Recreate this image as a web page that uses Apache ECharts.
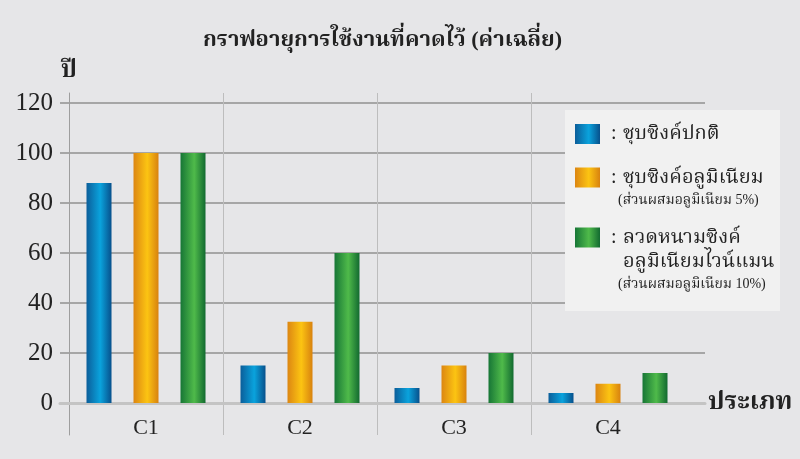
<!DOCTYPE html>
<html>
<head>
<meta charset="utf-8">
<script src="https://cdn.jsdelivr.net/npm/echarts@6/dist/echarts.min.js"></script>
<style>
html,body{margin:0;padding:0;background:#e6e6e8;}
#chart{width:800px;height:459px;}
</style>
</head>
<body>
<div id="chart"></div>
<script>
const categories = ['C1', 'C2', 'C3', 'C4'];
const seriesNames = ['ชุบซิงค์ปกติ', 'ชุบซิงค์อลูมิเนียม', 'ลวดหนามซิงค์อลูมิเนียมไวน์แมน'];
const normalZinc = [88, 15, 6, 4];
const zincAlu5 = [100, 32.5, 15, 7.7];
const zincAlu10 = [100, 60, 20, 12];
const yTicks = [0, 20, 40, 60, 80, 100, 120];

const FONT = '"Liberation Serif", "Noto Serif Thai", "Noto Sans Thai", serif';

function grad(c0, c1, c2) {
  return {type: 'linear', x: 0, y: 0, x2: 1, y2: 0,
    colorStops: [{offset: 0, color: c0}, {offset: 0.55, color: c1}, {offset: 1, color: c2}]};
}
const colors = [
  grad('#0b5e9a', '#0aa3dd', '#07508c'),
  grad('#dc8612', '#fcc412', '#d8820f'),
  grad('#177636', '#4fba4a', '#126a30')
];

const rich = {
  sp: {fontSize: 4, lineHeight: 21},
  sp2: {fontSize: 4, lineHeight: 45},
  p: {width: 6, fontSize: 20, lineHeight: 24},
  c: {width: 12, fontSize: 20, lineHeight: 24, fontFamily: FONT, color: '#222'},
  m: {fontSize: 20, lineHeight: 24, fontFamily: FONT, color: '#222'},
  ind: {width: 18, fontSize: 20, lineHeight: 24},
  ps: {width: 13, fontSize: 14, lineHeight: 21},
  s: {fontSize: 14, lineHeight: 21, fontFamily: FONT, color: '#222'}
};

function legend(name, top, fmt) {
  return {
    data: [{name: name, icon: 'rect'}], left: 575, top: top, padding: 0, orient: 'vertical',
    itemWidth: 25, itemHeight: 20, selectedMode: false, z: 10,
    textStyle: {rich: rich},
    formatter: fmt
  };
}

const option = {
  backgroundColor: '#e6e6e8',
  animation: false,
  title: {
    text: 'กราฟอายุการใช้งานที่คาดไว้ (ค่าเฉลี่ย)',
    left: 198, top: 24,
    textStyle: {fontFamily: FONT, fontWeight: 'bold', fontSize: 22, color: '#222'}
  },
  graphic: [{
    type: 'rect', z: 3, shape: {x: 565, y: 110, width: 215, height: 201},
    style: {fill: '#f1f1f1'}
  }],
  legend: [
    legend(seriesNames[0], 124, () => '{p| }{c|:}{m|' + seriesNames[0] + '}'),
    legend(seriesNames[1], 153, () => '{sp| }\n{p| }{c|:}{m|' + seriesNames[1] + '}\n{ps| }{s|(ส่วนผสมอลูมิเนียม 5%)}'),
    legend(seriesNames[2], 201, () => '{sp2| }\n{p| }{c|:}{m|ลวดหนามซิงค์}\n{ind| }{m|อลูมิเนียมไวน์แมน}\n{ps| }{s|(ส่วนผสมอลูมิเนียม 10%)}')
  ],
  grid: [
    {left: 60, right: 95, top: 103, bottom: 56},
    {left: 69, right: 115, top: 103, bottom: 56},
    {left: 69, width: 462, top: 93, bottom: 24}
  ],
  xAxis: [
    {gridIndex: 0, type: 'category', data: categories,
     axisLine: {show: true, lineStyle: {color: '#c4c4c4', width: 3}},
     axisTick: {show: false}, axisLabel: {show: false}, splitLine: {show: false},
     name: 'ประเภท', nameLocation: 'end', nameGap: 3,
     nameTextStyle: {fontFamily: FONT, fontSize: 25, fontWeight: 'bold', color: '#222', verticalAlign: 'middle'}},
    {gridIndex: 1, type: 'category', data: categories,
     axisLine: {show: false}, axisTick: {show: false}, splitLine: {show: false},
     axisLabel: {fontFamily: FONT, fontSize: 22, color: '#222', margin: 14}},
    {gridIndex: 2, type: 'category', data: ['a', 'b', 'c'],
     axisLine: {show: false}, axisTick: {show: false}, axisLabel: {show: false},
     splitLine: {show: true, lineStyle: {color: '#bdbdbd', width: 1}}}
  ],
  yAxis: [
    {gridIndex: 0, type: 'value', min: 0, max: 120, interval: 20,
     axisLine: {show: false}, axisTick: {show: false},
     axisLabel: {fontFamily: FONT, fontSize: 25, color: '#222', margin: 7,
       formatter: v => yTicks.includes(v) ? String(v) : ''},
     splitLine: {show: true, lineStyle: {color: '#a6a6a6', width: 2}}},
    {gridIndex: 1, type: 'value', min: 0, max: 120, interval: 20,
     axisLine: {show: false}, axisTick: {show: false}, axisLabel: {show: false}, splitLine: {show: false},
     name: 'ปี', nameLocation: 'end', nameGap: 20,
     nameTextStyle: {fontFamily: FONT, fontSize: 24, fontWeight: 'bold', color: '#222', align: 'center'}},
    {gridIndex: 2, type: 'value', min: 0, max: 1,
     axisLine: {show: true, lineStyle: {color: '#9e9e9e', width: 1}},
     axisTick: {show: false}, axisLabel: {show: false}, splitLine: {show: false}}
  ],
  series: [
    {name: seriesNames[0], type: 'bar', xAxisIndex: 1, yAxisIndex: 1, data: normalZinc,
     barWidth: 25, barGap: '88%', itemStyle: {color: colors[0]}},
    {name: seriesNames[1], type: 'bar', xAxisIndex: 1, yAxisIndex: 1, data: zincAlu5,
     barWidth: 25, barGap: '88%', itemStyle: {color: colors[1]}},
    {name: seriesNames[2], type: 'bar', xAxisIndex: 1, yAxisIndex: 1, data: zincAlu10,
     barWidth: 25, barGap: '88%', itemStyle: {color: colors[2]}}
  ]
};

const chart = echarts.init(document.getElementById('chart'), null, {renderer: 'canvas'});
chart.setOption(option);
</script>
</body>
</html>
